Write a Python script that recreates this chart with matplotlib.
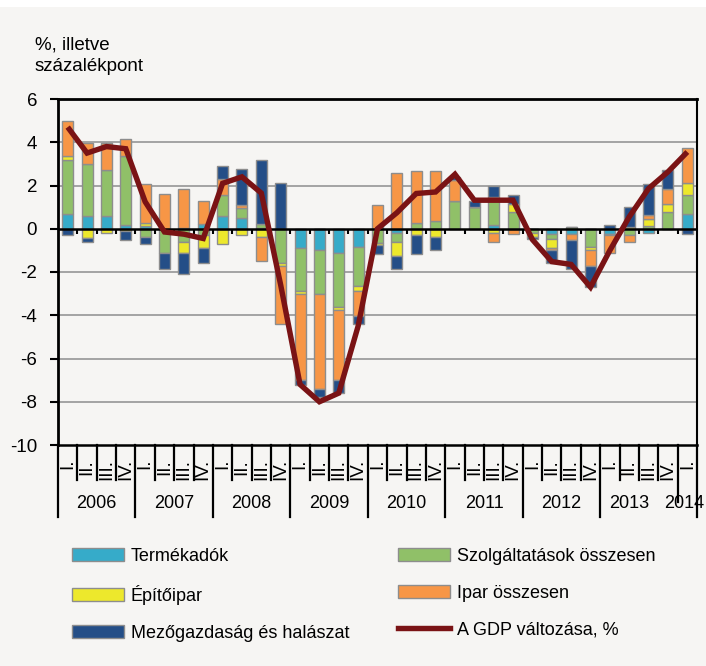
import numpy as np
import matplotlib
matplotlib.use("Agg")
import matplotlib.pyplot as plt
from matplotlib.patches import Patch, Rectangle
from matplotlib.lines import Line2D
import matplotlib.transforms as mtrans

plt.rcParams['font.family'] = ['Liberation Sans', 'DejaVu Sans']

# ---------------- data ----------------
years = ['2006', '2007', '2008', '2009', '2010', '2011', '2012', '2013', '2014']
quarter_labels = ['I.', 'II.', 'III.', 'IV.'] * 8 + ['I.']

termekadok = [0.66, 0.58, 0.60, 0.17, 0.14, 0.00, 0.05, 0.20,
              0.58, 0.48, 0.05, 0.00, -0.90, -1.00, -1.14, -0.83,
              0.00, -0.20, 0.00, 0.00, 0.00, 0.00, 0.17, 0.00,
              0.00, -0.26, -0.22, 0.00, -0.22, 0.00, -0.20, 0.00, 0.66]
szolgaltatasok = [2.50, 2.40, 2.10, 3.20, -0.40, -1.14, -0.60, -0.30,
                  1.00, 0.50, 0.15, -1.60, -2.00, -2.00, -2.46, -1.80,
                  -0.65, -0.43, 0.25, 0.37, 1.28, 1.00, 1.30, 0.78,
                  -0.18, -0.23, 0.10, -0.83, -0.05, -0.30, 0.15, 0.78, 0.90]
epitoipar = [0.20, -0.42, -0.20, -0.10, 0.14, 0.00, -0.50, -0.60,
             -0.70, -0.30, -0.40, -0.10, -0.10, 0.00, -0.18, -0.25,
             -0.10, -0.65, -0.30, -0.40, 0.00, 0.00, -0.18, 0.35,
             -0.18, -0.38, 0.00, -0.15, 0.00, 0.10, 0.32, 0.35, 0.54]
ipar = [1.60, 1.00, 1.26, 0.77, 1.80, 1.60, 1.78, 1.08,
        0.70, 0.10, -1.10, -2.70, -4.00, -4.40, -3.20, -1.14,
        1.08, 2.58, 2.43, 2.30, 0.97, 0.00, -0.42, -0.22,
        0.00, -0.10, -0.28, -0.72, -0.87, -0.30, 0.15, 0.72, 1.62]
mezogazdasag = [-0.30, -0.18, 0.00, -0.40, -0.30, -0.70, -1.00, -0.70,
                0.60, 1.70, 3.00, 2.10, -0.23, -0.40, -0.60, -0.38,
                -0.40, -0.60, -0.88, -0.60, 0.15, 0.30, 0.50, 0.45,
                -0.12, -0.62, -1.34, -1.00, 0.18, 0.92, 1.43, 0.85, -0.22]
gdp = [4.70, 3.50, 3.80, 3.70, 1.25, -0.15, -0.25, -0.45,
       2.10, 2.40, 1.65, -2.60, -7.20, -8.00, -7.60, -4.50,
       0.00, 0.74, 1.63, 1.70, 2.52, 1.32, 1.32, 1.32,
       -0.50, -1.52, -1.65, -2.70, -1.00, 0.55, 1.86, 2.63, 3.55]

series_names = ['Termékadók', 'Szolgáltatások összesen', 'Építőipar',
                'Ipar összesen', 'Mezőgazdaság és halászat']
series_vals = [termekadok, szolgaltatasok, epitoipar, ipar, mezogazdasag]
series_colors = ['#36abc9', '#90c068', '#ede82c', '#f79646', '#244e87']
gdp_label = 'A GDP változása, %'

# ---------------- figure ----------------
BG = '#f6f5f3'
FS = 13.0
W, H = 706, 666
fig = plt.figure(figsize=(W / 100, H / 100), dpi=100, facecolor=BG)
fig.patches.append(Rectangle((0, 1 - 7 / H), 1, 7 / H, transform=fig.transFigure,
                             facecolor='white', edgecolor='none', zorder=-1))

L, R, T, B = 58, 697, 99, 445
ax = fig.add_axes([L / W, 1 - B / H, (R - L) / W, (B - T) / H])
ax.set_facecolor(BG)

n = len(gdp)
x = np.arange(n)
pos = np.zeros(n)
neg = np.zeros(n)
for name, vals, col in zip(series_names, series_vals, series_colors):
    v = np.array(vals)
    bottom = np.where(v >= 0, pos, neg)
    ax.bar(x, v, width=0.57, bottom=bottom, color=col, edgecolor='#8d8d8d',
           linewidth=1.0, zorder=3)
    pos = pos + np.where(v >= 0, v, 0)
    neg = neg + np.where(v < 0, v, 0)

ax.plot(x, gdp, color='#7a1315', linewidth=3.9, zorder=5,
        solid_joinstyle='miter', solid_capstyle='butt')

ax.set_xlim(-0.5, n - 0.5)
ax.set_ylim(-10, 6)
ax.set_yticks(np.arange(-10, 7, 2))
ax.set_yticklabels([str(v) for v in range(-10, 7, 2)])
for yv in [-8, -6, -4, -2, 2, 4]:
    ax.axhline(yv, color='#a3a3a3', linewidth=1.4, zorder=1)
ax.axhline(0, color='black', linewidth=1.8, zorder=4)

# small ticks on zero line
ax.vlines(np.arange(0.5, n - 0.5, 1.0), -0.22, 0, color='black', linewidth=1.5, zorder=4)

for s in ax.spines.values():
    s.set_color('black')
ax.spines['left'].set_linewidth(2.0)
ax.spines['top'].set_linewidth(2.0)
ax.spines['right'].set_linewidth(1.5)
ax.spines['bottom'].set_linewidth(1.8)

ax.tick_params(axis='y', direction='out', length=6, width=1.5, pad=9,
               labelsize=FS + 0.5, colors='black')
ax.set_xticks(x)
ax.set_xticklabels(quarter_labels, rotation=90, fontsize=FS + 0.5)
ax.tick_params(axis='x', length=0, pad=10)

# separators below axis
trans = mtrans.blended_transform_factory(ax.transData, ax.transAxes)
def ypx(p):
    return (B - p) / (B - T)
for b in np.arange(-0.5, n, 1.0):
    if abs((b + 0.5) % 4) < 1e-9 or b == n - 0.5:
        bot = 517
        if b == 31.5:
            bot = 502
    else:
        bot = 480
    ax.plot([b, b], [0, ypx(bot)], transform=trans, color='black',
            linewidth=1.6, clip_on=False, zorder=6)

year_pos = [1.5, 5.5, 9.5, 13.5, 17.5, 21.5, 25.5, 29.0, 31.85]
for yr, xp in zip(years, year_pos):
    ax.text(xp, ypx(503), yr, transform=trans, ha='center', va='center',
            fontsize=FS, color='black')

fig.text(35 / W, 1 - 37 / H, '%, illetve\nszázalékpont', ha='left', va='top',
         fontsize=FS + 0.5, linespacing=1.3, color='black')

# legend
handles = [Patch(facecolor=c, edgecolor='#8d8d8d', linewidth=1.0) for c in series_colors]
gdp_handle = Line2D([0], [0], color='#7a1315', linewidth=3.9)
col1 = [(handles[0], series_names[0]), (handles[2], series_names[2]), (handles[4], series_names[4])]
col2 = [(handles[1], series_names[1]), (handles[3], series_names[3]), (gdp_handle, gdp_label)]
for items, xl in [(col1, 72), (col2, 398)]:
    fig.legend([h for h, _ in items], [t for _, t in items], loc='upper left',
               bbox_to_anchor=(xl / W, 1 - 548 / H), frameon=False,
               fontsize=FS, handlelength=2.9, handleheight=0.7,
               handletextpad=0.35, labelspacing=1.1, borderpad=0,
               borderaxespad=0)

fig.savefig('out.png', dpi=100, facecolor=BG)
